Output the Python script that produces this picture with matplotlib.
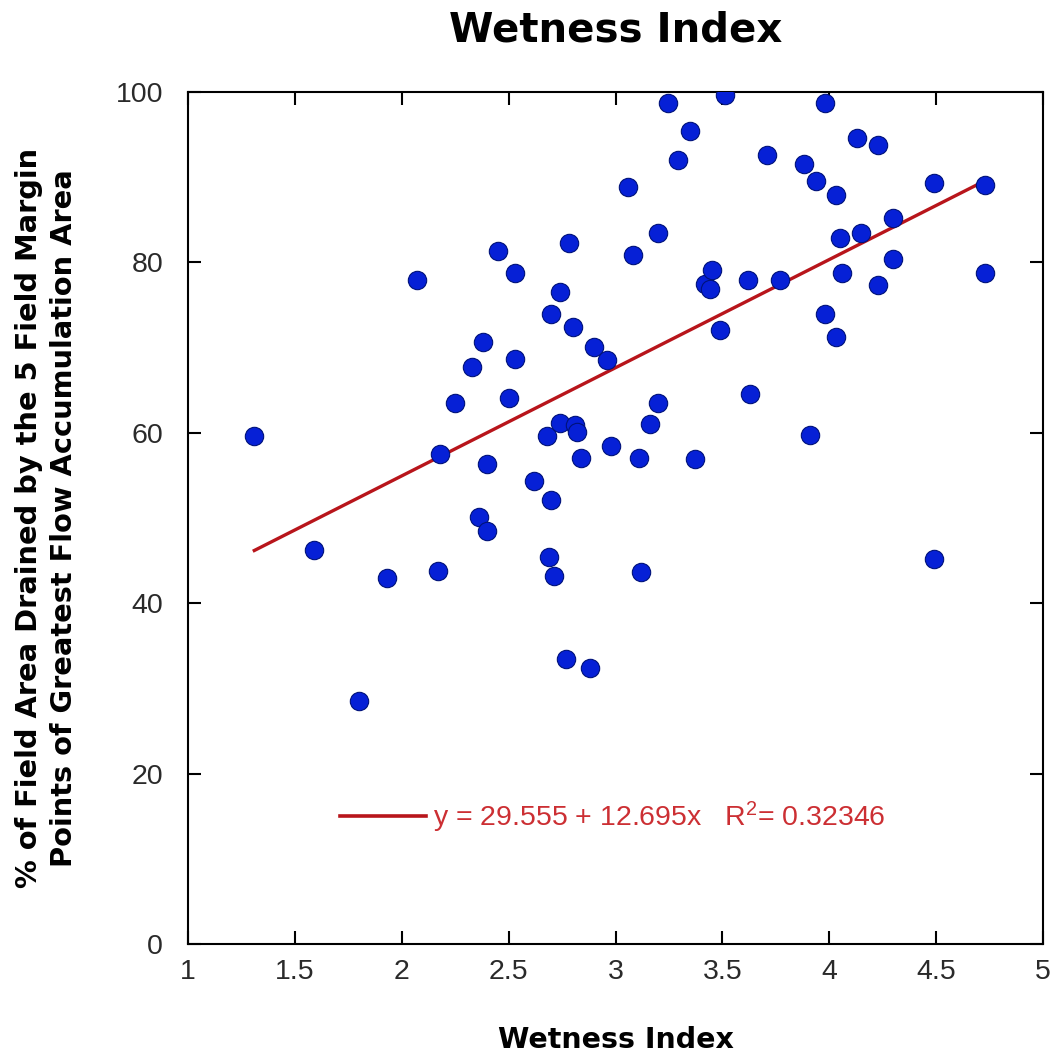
import matplotlib
matplotlib.use('Agg')
import matplotlib.pyplot as plt
from matplotlib.lines import Line2D
import numpy as np

# wetness index vs % of field area drained
wetness = [1.31, 1.59, 1.80, 1.93, 2.07, 2.17, 2.18, 2.25, 2.33, 2.36,
           2.38, 2.40, 2.40, 2.45, 2.50, 2.53, 2.53, 2.62, 2.68, 2.69,
           2.70, 2.70, 2.71, 2.74, 2.74, 2.77, 2.78, 2.80, 2.81, 2.82,
           2.84, 2.88, 2.90, 2.96, 2.98, 3.06, 3.08, 3.11, 3.12, 3.16,
           3.20, 3.20, 3.245, 3.29, 3.35, 3.37, 3.42, 3.44, 3.45, 3.49,
           3.51, 3.62, 3.63, 3.71, 3.77, 3.88, 3.91, 3.94, 3.98, 3.98,
           4.03, 4.03, 4.05, 4.06, 4.13, 4.15, 4.23, 4.23, 4.30, 4.30,
           4.49, 4.49, 4.73, 4.73]
drained = [59.6, 46.3, 28.5, 42.9, 77.9, 43.8, 57.5, 63.5, 67.7, 50.1,
           70.7, 56.3, 48.5, 81.3, 64.1, 68.7, 78.7, 54.3, 59.6, 45.4,
           74.0, 52.1, 43.2, 76.5, 61.2, 33.5, 82.3, 72.4, 60.9, 60.1,
           57.0, 32.4, 70.1, 68.6, 58.5, 88.8, 80.9, 57.0, 43.7, 61.0,
           83.5, 63.5, 98.7, 92.0, 95.4, 56.9, 77.5, 76.9, 79.1, 72.1,
           99.6, 77.9, 64.6, 92.6, 77.9, 91.6, 59.7, 89.6, 98.7, 73.9,
           87.9, 71.2, 82.9, 78.8, 94.6, 83.5, 93.8, 77.4, 85.2, 80.4,
           89.3, 45.2, 89.1, 78.8]

# fit reported on the chart
intercept = 29.555
slope = 12.695
r2 = 0.32346

xticks = [1, 1.5, 2, 2.5, 3, 3.5, 4, 4.5, 5]
xticklabels = ['1', '1.5', '2', '2.5', '3', '3.5', '4', '4.5', '5']
yticks = [0, 20, 40, 60, 80, 100]

plt.rcParams['mathtext.fontset'] = 'custom'
plt.rcParams['mathtext.rm'] = 'Liberation Sans'
plt.rcParams['mathtext.default'] = 'regular'

fig = plt.figure(figsize=(10.54, 10.55), dpi=100)
ax = fig.add_axes([0.1784, 0.1052, 0.8112, 0.8076])

ax.scatter(wetness, drained, s=175, c='#0620d6', edgecolors='#00127a',
           linewidths=0.8, zorder=3)

xfit = np.array([min(wetness), max(wetness)])
ax.plot(xfit, intercept + slope * xfit, color='#b8151b', lw=2.4, zorder=2)

ax.set_xlim(1, 5)
ax.set_ylim(0, 100)
ax.set_xticks(xticks)
ax.set_xticklabels(xticklabels)
ax.set_yticks(yticks)

for lab in ax.get_xticklabels() + ax.get_yticklabels():
    lab.set_family('Liberation Sans')
    lab.set_fontsize(20.5)
    lab.set_color('#2a2a2a')

ax.tick_params(direction='in', length=9.5, width=1.5, top=True, right=True)
ax.tick_params(axis='y', pad=18)
ax.tick_params(axis='x', pad=11)
for sp in ax.spines.values():
    sp.set_linewidth(1.5)

ax.set_title('Wetness Index', fontsize=29, fontweight='bold', pad=36)
ax.set_xlabel('Wetness Index', fontsize=20.5, fontweight='bold', labelpad=29)
ax.set_ylabel('% of Field Area Drained by the 5 Field Margin\n'
              'Points of Greatest Flow Accumulation Area',
              fontsize=20.8, fontweight='bold', labelpad=27, linespacing=1.3)

handle = Line2D([], [], color='#b8151b', lw=2.6)
leg = ax.legend([handle],
                ['y = %.3f + %.3fx   R$^2$= %.5f' % (intercept, slope, r2)],
                loc='center left', bbox_to_anchor=(0.178, 0.149),
                frameon=False, borderpad=0, borderaxespad=0,
                handlelength=3.0, handletextpad=0.25,
                prop={'family': 'Liberation Sans', 'size': 20.5})
for t in leg.get_texts():
    t.set_color('#cc2f33')

plt.savefig('out.png', dpi=100)
